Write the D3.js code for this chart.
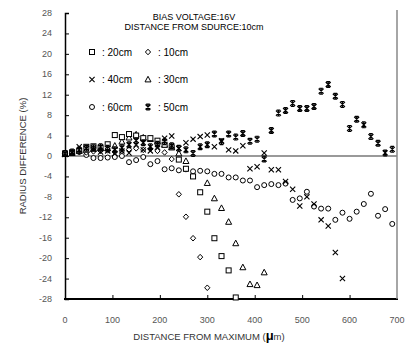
<!DOCTYPE html>
<html><head><meta charset="utf-8">
<script src="https://cdn.jsdelivr.net/npm/d3@7"></script>
<style>body{margin:0;background:#fff}svg{display:block}</style>
</head><body><svg id="c" width="406" height="347"></svg>
<script>
// ---- data ----
const xTickValues=[0,100,200,300,400,500,600,700];
const yTickValues=[-28,-24,-20,-16,-12,-8,-4,0,4,8,12,16,20,24,28];

const x10=[0,15,30,45,60,75,90,105,120,135,150,165,180,195,210,225,240,255,270,285,300];
const y10=[0.5,0.6,0.8,0.7,0.9,1.0,1.1,0.8,1.0,1.3,1.5,1.2,1.4,1.0,0.7,-0.6,-7.5,-11.9,-16.1,-19.8,-25.8];

const x20=[0,15,30,45,60,75,90,105,120,135,150,165,180,195,210,225,240,255,270,285,300,315,330,345,360];
const y20=[0.5,0.7,1.0,1.8,1.9,1.6,2.3,4.1,3.7,4.3,4.0,3.5,3.5,3.0,2.2,1.7,-0.7,-2.5,-4.0,-7.1,-10.9,-16.1,-19.6,-22.4,-27.7];

const x30=[0,15,30,45,60,75,90,105,120,135,150,165,180,195,210,225,240,255,300,315,330,345,360,375,390,405,420];
const y30=[0.4,0.6,1.0,1.2,1.4,1.5,1.5,2.0,2.8,3.6,4.2,3.6,3.3,2.8,2.2,1.7,0.5,-1.0,-5.3,-8.3,-10.2,-12.9,-17.1,-21.8,-25.1,-25.3,-22.8];

const x40=[0,15,30,45,60,75,90,105,120,135,150,165,180,195,210,225,240,255,270,285,300,315,330,345,360,375,390,405,420,435,450,465,480,495,510,525,540,555,570,585];
const y40=[0.3,0.6,1.8,1.5,1.3,0.8,1.0,0.5,1.0,0.6,2.2,1.2,1.0,1.7,3.5,3.9,1.5,2.6,3.3,3.8,4.1,1.8,3.0,1.2,1.0,2.0,-2.5,-2.1,0.6,-2.7,-2.7,-5.0,-6.5,-9.8,-8.0,-9.4,-12.5,-13.7,-18.9,-24.0];

const x50=[0,15,30,45,60,75,90,105,120,135,150,165,180,195,210,225,240,255,270,285,300,315,330,345,360,375,390,405,420,435,450,465,480,495,510,525,540,555,570,585,600,615,630,645,660,675,690];
const y50=[0.5,0.8,1.2,1.5,1.6,1.8,1.5,1.2,1.6,2.2,3.0,2.6,1.8,2.3,2.8,2.0,1.5,1.2,0.5,1.8,2.2,4.3,2.8,4.3,3.7,4.4,2.9,3.3,-0.6,5.0,8.4,8.9,10.3,9.3,9.3,9.7,12.7,14.0,11.7,10.1,5.4,7.2,6.1,3.8,2.5,0.6,1.3];

const x60=[0,15,30,45,60,75,90,105,120,135,150,165,180,195,210,225,240,255,270,285,300,315,330,345,360,375,390,405,420,435,450,465,480,495,510,525,540,555,570,585,600,615,630,645,660,675,690];
const y60=[0.4,0.6,0.8,0.2,-0.4,-0.4,-0.3,-0.2,0.0,-1.2,-0.8,-0.2,-1.6,-1.0,-2.6,-2.4,-2.8,-2.6,-3.0,-2.9,-3.0,-3.5,-3.5,-4.2,-4.2,-4.8,-4.8,-6.1,-5.7,-5.5,-5.7,-5.4,-8.6,-8.3,-7.0,-9.9,-10.3,-10.3,-12.5,-11.1,-12.3,-10.9,-9.4,-7.4,-11.7,-10.4,-13.3];

const legendLabels=[": 20cm",": 10cm",": 40cm",": 30cm",": 60cm",": 50cm"];

// ---- layout ----
const svg=d3.select("#c");
const L=65,R=397,T=13,B=299;
const x=d3.scaleLinear().domain([0,700]).range([L,R]);
const y=d3.scaleLinear().domain([-28,28]).range([B,T]);
const font="'Liberation Sans', Arial, sans-serif";

function marker(g,type){
  g.attr("fill","none").attr("stroke","#000").attr("stroke-width",1);
  if(type==="square") g.append("rect").attr("x",-2.5).attr("y",-2.5).attr("width",5).attr("height",5).attr("fill","#fff");
  if(type==="diamond") g.append("path").attr("d","M0,-2.8L2.6,0L0,2.8L-2.6,0Z").attr("fill","#fff");
  if(type==="triangle") g.append("path").attr("d","M0,-3.2L3,2.4L-3,2.4Z").attr("fill","#fff");
  if(type==="circle") g.append("circle").attr("r",2.5).attr("fill","#fff");
  if(type==="cross") g.append("path").attr("d","M-2.6,-2.6L2.6,2.6M-2.6,2.6L2.6,-2.6").attr("stroke-width",1.1);
  if(type==="star") g.append("path").attr("d","M-2.5,-2.5L2.5,2.5M-2.5,2.5L2.5,-2.5M0,-2.6L0,2.6M-1.8,-2.9L1.8,-2.9M-1.8,2.9L1.8,2.9").attr("stroke-width",1.2);
}

// zero line
svg.append("line").attr("x1",L).attr("x2",R).attr("y1",y(0)).attr("y2",y(0)).attr("stroke","#777").attr("stroke-width",1.5);

// axes
const yAxis=d3.axisRight(y).tickValues(yTickValues).tickSize(4).tickFormat("");
const gy=svg.append("g").attr("transform",`translate(${L},0)`).call(yAxis);
gy.select(".domain").attr("stroke","#000").attr("stroke-width",1.5);
gy.selectAll(".tick line").attr("stroke","#000");

const xAxis=d3.axisTop(x).tickValues(xTickValues.slice(1,7)).tickSize(4).tickFormat("");
const gx=svg.append("g").attr("transform",`translate(0,${B})`).call(xAxis);
gx.select(".domain").remove();
gx.selectAll(".tick line").attr("stroke","#000");
svg.append("line").attr("x1",L-1).attr("x2",R+1).attr("y1",B).attr("y2",B).attr("stroke","#000").attr("stroke-width",2.2);
svg.append("line").attr("x1",R).attr("x2",R).attr("y1",T-3).attr("y2",B).attr("stroke","#888").attr("stroke-width",1.5);

// tick labels
svg.append("g").selectAll("text").data(yTickValues).join("text")
  .attr("x",52).attr("y",d=>y(d)+3).attr("text-anchor","end")
  .attr("font-family",font).attr("font-size",9).attr("fill","#555").text(d=>d);
svg.append("g").selectAll("text").data(xTickValues).join("text")
  .attr("x",d=>x(d)).attr("y",323).attr("text-anchor","middle")
  .attr("font-family",font).attr("font-size",9).attr("fill","#555").text(d=>d);

// axis titles
svg.append("text").attr("transform",`translate(26,${(T+B)/2}) rotate(-90)`).attr("text-anchor","middle")
  .attr("font-family",font).attr("font-size",9.5).attr("fill","#333").text("RADIUS DIFFERENCE (%)");
const xt=svg.append("text").attr("x",(L+R)/2-22).attr("y",340).attr("text-anchor","middle")
  .attr("font-family",font).attr("font-size",9.5).attr("fill","#333");
xt.append("tspan").text("DISTANCE FROM MAXIMUM (");
xt.append("tspan").attr("font-size",13).attr("font-weight","bold").attr("fill","#000").text("μ");
xt.append("tspan").text("m)");

// title
svg.append("text").attr("x",194).attr("y",20).attr("text-anchor","middle").attr("font-family",font).attr("font-size",9).attr("fill","#000").text("BIAS VOLTAGE:16V");
svg.append("text").attr("x",194).attr("y",29.5).attr("text-anchor","middle").attr("font-family",font).attr("font-size",9).attr("fill","#000").text("DISTANCE FROM SDURCE:10cm");

// legend
const legTypes=["square","diamond","cross","triangle","circle","star"];
legTypes.forEach((t,i)=>{
  const col=i%2,row=Math.floor(i/2);
  const lx=col===0?92:148, ly=52+row*27.5;
  marker(svg.append("g").attr("transform",`translate(${lx},${ly})`),t);
  svg.append("text").attr("x",lx+10).attr("y",ly+3.5).attr("font-family",font).attr("font-size",10).attr("fill","#000").text(legendLabels[i]);
});

// series
const series=[
  {xs:x60,ys:y60,t:"circle"},
  {xs:x10,ys:y10,t:"diamond"},
  {xs:x30,ys:y30,t:"triangle"},
  {xs:x20,ys:y20,t:"square"},
  {xs:x40,ys:y40,t:"cross"},
  {xs:x50,ys:y50,t:"star"}
];
series.forEach(s=>{
  const pts=s.xs.map((v,i)=>[v,s.ys[i]]);
  svg.append("g").selectAll("g").data(pts).join("g")
    .attr("transform",d=>`translate(${x(d[0])},${y(d[1])})`)
    .each(function(){marker(d3.select(this),s.t);});
});
</script></body></html>
